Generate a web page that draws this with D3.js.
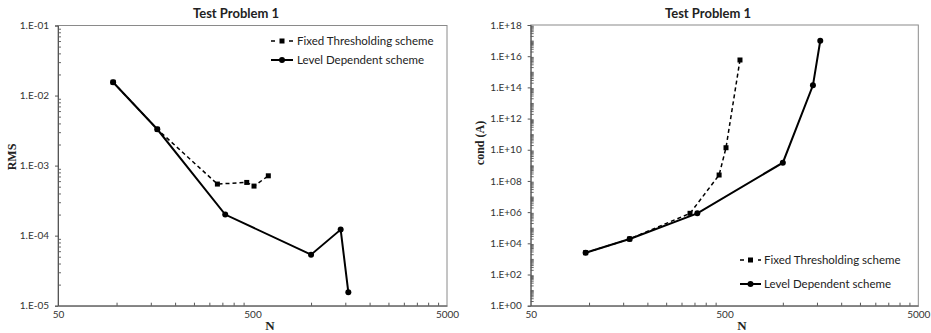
<!DOCTYPE html>
<html><head><meta charset="utf-8">
<script src="https://cdn.jsdelivr.net/npm/d3@7"></script>
<style>body{margin:0;background:#fff}svg{display:block}</style></head>
<body><svg id="c" width="931" height="333"></svg>
<script>
// RMS error vs N
const rmsFixedN = [96, 162, 330, 467, 509, 603];
const rmsFixed  = [0.0155, 0.0033, 5.45e-4, 5.75e-4, 5.1e-4, 7.15e-4];
const rmsLevelN = [96, 162, 362, 1000, 1420, 1555];
const rmsLevel  = [0.0155, 0.0033, 2.0e-4, 5.35e-5, 1.22e-4, 1.55e-5];
// condition number vs N
const condFixedN = [96, 162, 332, 469, 509, 601];
const condFixed  = [2.5e3, 1.9e4, 8.4e5, 2.4e8, 1.35e10, 5.7e15];
const condLevelN = [96, 162, 362, 1000, 1430, 1560];
const condLevel  = [2.5e3, 1.9e4, 8.4e5, 1.48e9, 1.36e14, 9.8e16];

const xTickValues = [50, 500, 5000];
const rmsTicks = [1e-5, 1e-4, 1e-3, 1e-2, 1e-1];
const condTicks = [1e0, 1e2, 1e4, 1e6, 1e8, 1e10, 1e12, 1e14, 1e16, 1e18];
const seriesNames = ["Fixed Thresholding scheme", "Level Dependent scheme"];
const titleText = "Test Problem 1";

const svg = d3.select("#c");
const SANS = "Lato, 'Liberation Sans', sans-serif";
const SERIF = "'Liberation Serif', 'DejaVu Serif', serif";

function expLabel(v) {
  const e = Math.round(Math.log10(v));
  const s = Math.abs(e).toString().padStart(2, "0");
  return "1.E" + (e < 0 ? "-" : "+") + s;
}

function panel(o) {
  const g = svg.append("g");
  const x = d3.scaleLog().domain([50, 5000]).range([o.x0, o.x1]);
  const y = d3.scaleLog().domain(o.yDomain).range([o.y0, o.y1]);

  // plot frame
  g.append("rect").attr("x", o.x0).attr("y", o.y1)
    .attr("width", o.x1 - o.x0).attr("height", o.y0 - o.y1)
    .attr("fill", "none").attr("stroke", "#8a8a8a").attr("stroke-width", 1);

  // minor ticks on the x axis (inside)
  const xMinor = [];
  for (let d = 50; d < 5000; d *= 10)
    for (let k = 2; k <= 9; k++) xMinor.push(d * k);
  g.append("g").attr("transform", `translate(0,${o.y0})`)
    .call(d3.axisBottom(x).tickValues(xMinor).tickSize(-3).tickFormat(""))
    .call(a => a.select(".domain").remove())
    .selectAll("line").attr("stroke", "#555");

  // minor ticks on the y axis (inside)
  const [ya, yb] = o.yDomain;
  const yMinor = [];
  for (let e = Math.round(Math.log10(ya)); e < Math.round(Math.log10(yb)); e++)
    for (let k = 2; k <= 9; k++) yMinor.push(k * Math.pow(10, e));
  if (o.oddDecades) {
    for (let e = Math.round(Math.log10(ya)) + 1; e < Math.round(Math.log10(yb)); e += 2)
      yMinor.push(Math.pow(10, e));
  }
  g.append("g").attr("transform", `translate(${o.x0},0)`)
    .call(d3.axisLeft(y).tickValues(yMinor).tickSize(-3).tickFormat(""))
    .call(a => a.select(".domain").remove())
    .selectAll("line").attr("stroke", "#666");

  // x axis
  const xa = g.append("g").attr("transform", `translate(0,${o.y0})`)
    .call(d3.axisBottom(x).tickValues(xTickValues).tickSize(0).tickPadding(5)
      .tickFormat(d3.format("d")));
  xa.select(".domain").attr("stroke", "#555");
  xa.selectAll("text").attr("font-family", SANS).attr("font-size", 10).attr("fill", "#333");

  // y axis
  const ya2 = g.append("g").attr("transform", `translate(${o.x0},0)`)
    .call(d3.axisLeft(y).tickValues(o.yTicks).tickSize(3).tickPadding(6)
      .tickFormat(expLabel));
  ya2.select(".domain").attr("stroke", "#555");
  ya2.selectAll("line").attr("stroke", "#555");
  ya2.selectAll("text").attr("font-family", SANS).attr("font-size", 10).attr("fill", "#333");

  // titles
  g.append("text").attr("x", o.titleX).attr("y", 18).attr("text-anchor", "middle")
    .attr("font-family", SANS).attr("font-weight", "bold").attr("font-size", 13)
    .attr("fill", "#222").text(titleText);
  g.append("text").attr("x", o.nX).attr("y", 330).attr("text-anchor", "middle")
    .attr("font-family", SERIF).attr("font-weight", "bold").attr("font-size", 13)
    .attr("fill", "#222").text("N");
  g.append("text").attr("transform", `translate(${o.yLabX},${o.yLabY}) rotate(-90)`)
    .attr("text-anchor", "middle")
    .attr("font-family", SERIF).attr("font-weight", "bold").attr("font-size", 12)
    .attr("fill", "#222").text(o.yLabel);

  const line = d3.line().x(d => x(d[0])).y(d => y(d[1]));
  const fixed = o.fixedN.map((n, i) => [n, o.fixed[i]]);
  const level = o.levelN.map((n, i) => [n, o.level[i]]);

  g.append("path").datum(fixed).attr("d", line).attr("fill", "none")
    .attr("stroke", "#000").attr("stroke-width", 1.5).attr("stroke-dasharray", "4,3");
  g.append("path").datum(level).attr("d", line).attr("fill", "none")
    .attr("stroke", "#000").attr("stroke-width", 2);

  g.selectAll(null).data(fixed).join("rect")
    .attr("x", d => x(d[0]) - 2.5).attr("y", d => y(d[1]) - 2.5)
    .attr("width", 5).attr("height", 5).attr("fill", "#000");
  g.selectAll(null).data(level).join("circle")
    .attr("cx", d => x(d[0])).attr("cy", d => y(d[1])).attr("r", 3).attr("fill", "#000");

  // legend
  const L = o.legend;
  const lg = g.append("g");
  lg.append("line").attr("x1", L.x1).attr("x2", L.x2).attr("y1", L.y[0]).attr("y2", L.y[0])
    .attr("stroke", "#000").attr("stroke-width", 1.5).attr("stroke-dasharray", "4,5");
  lg.append("rect").attr("x", (L.x1 + L.x2) / 2 - 2.5).attr("y", L.y[0] - 2.5)
    .attr("width", 5).attr("height", 5).attr("fill", "#000");
  lg.append("line").attr("x1", L.x1).attr("x2", L.x2).attr("y1", L.y[1]).attr("y2", L.y[1])
    .attr("stroke", "#000").attr("stroke-width", 2);
  lg.append("circle").attr("cx", (L.x1 + L.x2) / 2).attr("cy", L.y[1]).attr("r", 3).attr("fill", "#000");
  seriesNames.forEach((s, i) => {
    lg.append("text").attr("x", L.tx).attr("y", L.y[i]).attr("dy", "0.35em")
      .attr("font-family", SANS).attr("font-size", 11.5).attr("fill", "#222").text(s);
  });
}

panel({
  x0: 58, x1: 447, y0: 305.7, y1: 25.5,
  yDomain: [1e-5, 1e-1], yTicks: rmsTicks,
  fixedN: rmsFixedN, fixed: rmsFixed, levelN: rmsLevelN, level: rmsLevel,
  titleX: 236, nX: 270, yLabX: 16, yLabY: 157, yLabel: "RMS",
  legend: { x1: 271, x2: 293, tx: 297, y: [41, 60] }
});

panel({
  x0: 530.7, x1: 918.3, y0: 305.7, y1: 25,
  yDomain: [1e0, 1e18], yTicks: condTicks, oddDecades: true,
  fixedN: condFixedN, fixed: condFixed, levelN: condLevelN, level: condLevel,
  titleX: 708, nX: 742, yLabX: 484, yLabY: 143, yLabel: "cond (A)",
  legend: { x1: 740, x2: 761, tx: 764, y: [260, 284] }
});
</script>
</body></html>
